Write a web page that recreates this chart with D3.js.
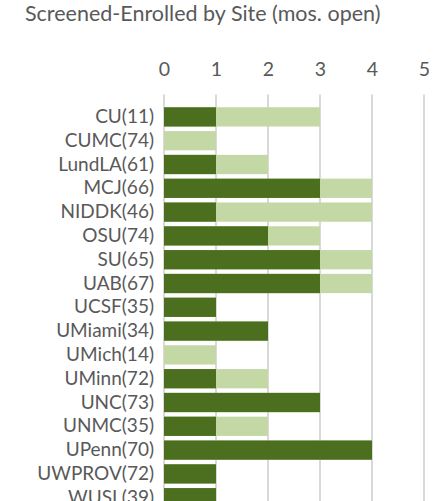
<!DOCTYPE html>
<html>
<head>
<meta charset="utf-8">
<script src="https://cdn.jsdelivr.net/npm/d3@7"></script>
<style>
  body { margin: 0; background: #fff; }
  svg { display: block; }
  text { font-family: Lato, "Open Sans", sans-serif; fill: #595959; }
</style>
</head>
<body>
<div id="chart"></div>
<script>
// Données
const sites = ["CU(11)", "CUMC(74)", "LundLA(61)", "MCJ(66)", "NIDDK(46)", "OSU(74)", "SU(65)", "UAB(67)",
  "UCSF(35)", "UMiami(34)", "UMich(14)", "UMinn(72)", "UNC(73)", "UNMC(35)", "UPenn(70)", "UWPROV(72)", "WUSL(39)"];
const screened = [3, 1, 2, 4, 4, 3, 4, 4, 1, 2, 1, 2, 3, 2, 4, 1, 1];
const enrolled = [1, 0, 1, 3, 1, 2, 3, 3, 1, 2, 0, 1, 3, 1, 4, 1, 1];
const xTicks = [0, 1, 2, 3, 4, 5];

const W = 439, H = 501;
const svg = d3.select("#chart").append("svg").attr("width", W).attr("height", H);

// Titre
svg.append("text")
  .attr("x", 25).attr("y", 21)
  .style("font-size", "21.5px")
  .text("Screened-Enrolled by Site (mos. open)");

// Échelles
const x = d3.scaleLinear().domain([0, 5]).range([164, 424]);
const step = 23.8;
const y = d3.scaleBand().domain(sites)
  .range([105, 105 + step * sites.length])
  .paddingInner(0.19).paddingOuter(0.095);

// Grille
svg.append("g").selectAll("line").data(xTicks).join("line")
  .attr("x1", d => x(d)).attr("x2", d => x(d))
  .attr("y1", 94.5).attr("y2", H)
  .attr("stroke", "#d9d9d9").attr("stroke-width", 2);

// Axe du haut
const axis = svg.append("g")
  .attr("transform", "translate(0,76)")
  .call(d3.axisTop(x).tickValues(xTicks).tickSize(0).tickPadding(0).tickFormat(d3.format("d")));
axis.select(".domain").remove();
axis.selectAll("text").style("font-size", "19.5px").attr("font-family", null).attr("fill", null).attr("dy", 0);

// Barres : dépistés (clair) puis inclus (foncé)
svg.append("g").selectAll("rect").data(sites).join("rect")
  .attr("x", x(0))
  .attr("y", d => y(d))
  .attr("width", (d, i) => x(screened[i]) - x(0))
  .attr("height", y.bandwidth())
  .attr("fill", "#c4d8a6");

svg.append("g").selectAll("rect").data(sites).join("rect")
  .attr("x", x(0))
  .attr("y", d => y(d))
  .attr("width", (d, i) => x(enrolled[i]) - x(0))
  .attr("height", y.bandwidth())
  .attr("fill", "#4b6f1e");

// Étiquettes des sites
const yAxis = svg.append("g")
  .attr("transform", "translate(154,0)")
  .call(d3.axisLeft(y).tickSize(0).tickPadding(0));
yAxis.select(".domain").remove();
yAxis.selectAll("text").style("font-size", "19px").attr("font-family", null).attr("fill", null);
</script>
</body>
</html>
